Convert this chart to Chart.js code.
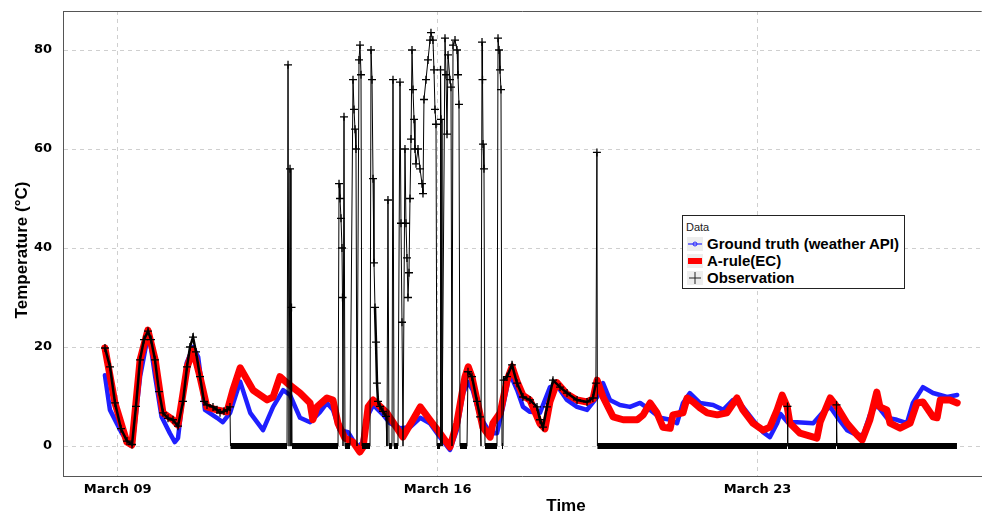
<!DOCTYPE html>
<html>
<head>
<meta charset="utf-8">
<script src="https://cdn.jsdelivr.net/npm/chart.js@4/dist/chart.umd.min.js"></script>
<style>
html,body{margin:0;padding:0;background:#fff;overflow:hidden;}
#wrap{position:relative;width:987px;height:513px;overflow:hidden;}
canvas{display:block;}
#legend{position:absolute;left:682px;top:215px;width:223px;height:74px;border:1.5px solid #222;background:#fff;box-sizing:border-box;font-family:"Liberation Sans",Arial,sans-serif;color:#000;}
#legend .ttl{position:absolute;left:3px;top:5px;font-size:11px;line-height:13px;color:#222;}
#legend .row{position:absolute;left:4px;height:16px;display:flex;align-items:center;font-weight:bold;font-size:15px;line-height:16px;white-space:nowrap;}
#legend svg{margin-right:4px;background:#eee;}
</style>
</head>
<body>
<div id="wrap">
<canvas id="c" width="987" height="513"></canvas>
<div id="legend">
  <div class="ttl">Data</div>
  <div class="row" style="top:20px"><svg width="16" height="14"><line x1="1" y1="7" x2="15" y2="7" stroke="#2b2bff" stroke-width="1.2"/><circle cx="8" cy="7" r="2" fill="none" stroke="#2b2bff" stroke-width="1"/></svg>Ground truth (weather API)</div>
  <div class="row" style="top:37px"><svg width="16" height="14"><rect x="1" y="4" width="14" height="6" fill="#ff0000"/></svg>A-rule(EC)</div>
  <div class="row" style="top:54px"><svg width="16" height="14"><line x1="2" y1="7" x2="14" y2="7" stroke="#222" stroke-width="1"/><line x1="8" y1="1" x2="8" y2="13" stroke="#222" stroke-width="1"/></svg>Observation</div>
</div>
</div>
<script>
// ---- data (days of March, temperature °C) ----
const xTickDays = [9, 16, 23];
const xTickLabels = ['March 09', 'March 16', 'March 23'];
const yTicks = [0, 20, 40, 60, 80];

const gtDays = [8.72,8.83,9.09,9.27,9.33,9.49,9.63,9.71,9.82,9.96,10.14,10.25,10.32,10.51,10.65,10.76,10.91,11.17,11.30,11.46,11.68,11.90,12.18,12.40,12.62,12.77,12.99,13.21,13.43,13.58,13.71,13.86,14.04,14.24,14.35,14.46,14.59,14.81,14.96,15.18,15.40,15.62,15.83,16.05,16.27,16.42,16.56,16.67,16.77,16.93,17.15,17.30,17.43,17.58,17.74,17.87,18.02,18.24,18.46,18.61,18.83,19.05,19.27,19.49,19.62,19.77,19.99,20.21,20.43,20.65,20.87,21.09,21.24,21.37,21.52,21.74,22.03,22.25,22.46,22.68,22.90,23.12,23.27,23.43,23.50,23.66,23.87,24.22,24.44,24.59,24.74,24.96,25.18,25.31,25.46,25.61,25.83,26.05,26.27,26.40,26.62,26.84,27.15,27.37];
const gtTemp = [14.3,7.3,2.6,0.2,0.8,14,20.8,21,14,5.9,2.6,0.8,1.6,16.8,20,18,7.3,5.7,4.8,6.7,13,6.7,3.2,7.9,11.3,10.3,5.7,4.8,6.9,8.7,7.3,3.2,2.8,-0.2,0.6,5.9,8.3,6.3,4.6,3.6,3.8,5.7,4.6,1.8,-0.8,3.2,10.7,12.9,11.3,5.9,2.6,2.6,7.9,14.7,11.3,7.9,6.9,6.7,11.9,12.3,9.3,7.9,7.3,9.9,12.7,9.3,8.3,7.9,8.7,7.3,5.7,5.3,4.6,8.7,10.7,8.7,8.3,7.3,9.3,7.9,5.3,2.8,1.8,4.6,6.5,4.8,4.8,4.6,6.9,7.9,5.9,3.2,2.2,2.2,6.3,8.3,5.7,5.3,4.6,8.7,11.9,10.7,9.9,10.3];

const ruleDays = [8.72,8.94,9.20,9.31,9.49,9.66,9.82,9.99,10.21,10.32,10.52,10.65,10.80,10.95,11.17,11.39,11.52,11.68,11.96,12.27,12.40,12.55,12.71,12.99,13.21,13.27,13.36,13.58,13.71,13.82,13.97,14.15,14.30,14.37,14.48,14.59,14.89,15.24,15.46,15.62,15.83,16.05,16.27,16.42,16.60,16.67,16.75,16.86,16.99,17.15,17.21,17.37,17.52,17.63,17.74,17.87,18.02,18.24,18.35,18.46,18.61,18.83,19.05,19.27,19.40,19.49,19.62,19.84,20.06,20.37,20.50,20.65,20.80,20.93,21.09,21.15,21.37,21.46,21.59,21.74,21.90,22.12,22.33,22.55,22.68,22.90,23.12,23.27,23.43,23.54,23.65,23.71,23.93,24.30,24.37,24.59,24.74,24.96,25.18,25.29,25.46,25.61,25.68,25.83,25.90,26.12,26.34,26.49,26.62,26.84,26.93,27.00,27.21,27.37];
const ruleTemp = [19.8,8.7,0.8,0.2,17.4,23.4,17.4,6.7,5.3,4.2,16,19.4,14,7.9,7.3,6.9,11.3,15.8,11.3,9.3,9.9,14,12.7,10.7,8.7,5.3,7.9,9.7,9.3,4.6,1.6,0.8,-1.2,-0.2,7.9,9.3,6.7,1.8,5.3,7.9,5.3,2.6,-0.2,4.6,14,16,14,9.3,3.8,1.8,4.6,6.7,13.3,16,13,10.2,9.3,4.5,3.5,9,12.8,10.5,9.3,8.9,9.5,13.3,9.9,5.9,5.3,5.3,6.3,8.7,6.7,3.8,3.6,6.3,6.7,9.7,8.9,7.7,6.7,6.3,6.7,9.7,7.3,4.6,3.2,3.8,7.3,10.3,7.9,4.6,2.6,1.6,4.8,9.7,7.9,4.6,2.2,1.2,5.3,10.9,7.9,7.3,4.6,3.6,4.6,8.7,8.9,5.9,5.7,9.3,9.3,8.7];

const obsDays = [8.722,8.832,8.941,9.072,9.204,9.313,9.400,9.488,9.575,9.663,9.729,9.816,9.904,9.991,10.101,10.210,10.319,10.429,10.516,10.582,10.648,10.713,10.801,10.888,10.954,11.085,11.173,11.239,11.326,11.392,11.457,11.468,12.705,12.727,12.749,12.771,12.792,12.803,12.814,13.821,13.843,13.864,13.886,13.908,13.919,13.930,13.952,13.974,14.083,14.149,14.171,14.193,14.214,14.236,14.280,14.302,14.324,14.346,14.433,14.521,14.543,14.565,14.587,14.608,14.630,14.652,14.674,14.696,14.739,14.805,14.871,14.892,14.914,14.936,15.002,15.024,15.046,15.133,15.177,15.199,15.221,15.243,15.286,15.308,15.330,15.352,15.374,15.396,15.418,15.440,15.462,15.484,15.505,15.527,15.571,15.615,15.659,15.680,15.702,15.746,15.790,15.834,15.855,15.899,15.921,15.943,15.965,15.987,16.053,16.064,16.075,16.096,16.162,16.184,16.206,16.228,16.271,16.293,16.315,16.337,16.381,16.425,16.446,16.468,16.490,16.643,16.665,16.753,16.862,16.928,16.950,16.972,16.983,16.994,17.015,17.037,17.300,17.322,17.344,17.365,17.387,17.409,17.431,17.442,17.518,17.628,17.737,17.868,18.022,18.175,18.241,18.306,18.394,18.525,18.679,18.832,19.051,19.270,19.398,19.464,19.486,19.497,23.646,23.656,23.667,24.718,24.729,24.740,27.365];
const obsTemp = [19.8,16,8.7,3.5,1,0.3,8,17.4,21.5,23.2,21.5,17.4,11,6.7,5.6,5.3,4,9,16,20,22,19,14,9,8.3,7.9,7.3,6.7,7,7.3,7.9,0,0,77,0,56,0,28,0,0,53,50,46,40,30,0,66.5,0,0,74,68,64,60,0,78,81,75,0,0,0,80,74,54,37,28,21,12.7,9,8,7,6,0,49.7,0,0,74,0,0,73.5,45,25,0,60,45,38,30,35,50,62,80,72,66,60,57,60,56,53,51,70,74,78,82,83.5,82,76,68,65,0,0,76,66,0,82.4,75,63,79,74,72.5,0,81,82,80,75,69,0,0,15,14,9,5.9,0,81.6,74,61,56,0,0,82.4,80,76,72,0,0,13.3,14,16.4,12.7,9.9,9.3,7.9,5.3,3.8,7.9,13.3,11.9,10.7,9.3,8.9,9.7,12.7,59.3,0,0,8,0,0,8.3,0,0];

const toXY = (xs, ys) => xs.map((x, i) => ({x: x, y: ys[i]}));

const frame = {
  id: 'frame',
  afterDraw(chart) {
    const c = chart.ctx, a = chart.chartArea;
    c.save();
    c.strokeStyle = '#555';
    c.lineWidth = 1;
    c.beginPath();
    c.moveTo(a.left, a.top + 0.5);
    c.lineTo(a.right, a.top + 0.5);
    c.stroke();
    c.fillStyle = '#000';
    c.font = 'bold 17px "Liberation Sans", Arial, sans-serif';
    c.textAlign = 'center';
    c.textBaseline = 'middle';
    c.fillText('Time', 566, 506);
    c.translate(22, 250);
    c.rotate(-Math.PI / 2);
    c.fillText('Temperature (°C)', 0, 0);
    c.restore();
  }
};

const tickFont = {family: 'DejaVu Sans', weight: 'bold', size: 13};

new Chart(document.getElementById('c'), {
  type: 'line',
  data: {
    datasets: [
      {
        label: 'Observation',
        data: toXY(obsDays, obsTemp),
        order: 0,
        borderColor: '#000',
        backgroundColor: '#000',
        borderWidth: 1,
        pointStyle: 'cross',
        pointRadius: ctx => (ctx.raw && ctx.raw.y !== 0) ? 4 : 0,
        pointBorderColor: '#000',
        pointBorderWidth: 1.3,
        tension: 0,
        segment: {
          borderWidth: ctx => {
            const a = ctx.p0.parsed.y, b = ctx.p1.parsed.y;
            if (a === 0 && b === 0) return 6;
            if (a !== 0 && b !== 0 && a < 30 && b < 30) return 2.5;
            return 1;
          }
        }
      },
      {
        label: 'A-rule(EC)',
        data: toXY(ruleDays, ruleTemp),
        order: 1,
        borderColor: '#ff0000',
        borderWidth: 7,
        pointRadius: 0,
        tension: 0,
        borderJoinStyle: 'round',
        borderCapStyle: 'round'
      },
      {
        label: 'Ground truth (weather API)',
        data: toXY(gtDays, gtTemp),
        order: 2,
        borderColor: '#1f1fff',
        borderWidth: 4.5,
        pointRadius: 0,
        tension: 0,
        borderJoinStyle: 'round',
        borderCapStyle: 'round'
      }
    ]
  },
  options: {
    responsive: false,
    animation: false,
    layout: {padding: {top: 11, left: 0, right: 0, bottom: 0}},
    plugins: {legend: {display: false}, tooltip: {enabled: false}},
    scales: {
      x: {
        type: 'linear',
        min: 7.803,
        max: 27.906,
        afterBuildTicks: s => { s.ticks = xTickDays.map(v => ({value: v})); },
        afterFit: s => { s.height = 37; s.paddingLeft = 0; s.paddingRight = 0; },
        ticks: {
          autoSkip: false,
          maxRotation: 0,
          padding: 6,
          color: '#000',
          font: tickFont,
          callback: v => xTickLabels[xTickDays.indexOf(v)]
        },
        grid: {color: '#cfcfcf', lineWidth: 1, drawTicks: false},
        border: {display: true, color: '#555', width: 1, dash: [4, 4]}
      },
      y: {
        type: 'linear',
        min: -6.06,
        max: 87.88,
        afterBuildTicks: s => { s.ticks = yTicks.map(v => ({value: v})); },
        afterFit: s => { s.width = 63; s.paddingTop = 0; s.paddingBottom = 0; },
        ticks: {padding: 11, color: '#000', font: tickFont},
        grid: {color: '#cfcfcf', lineWidth: 1, drawTicks: false},
        border: {display: true, color: '#555', width: 1, dash: [4, 4]}
      }
    }
  },
  plugins: [frame]
});
</script>
</body>
</html>
